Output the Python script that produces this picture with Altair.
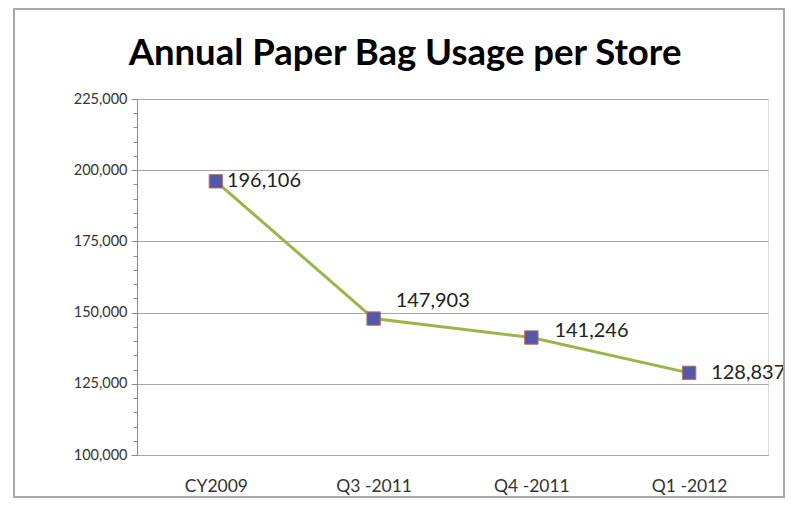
import altair as alt
import pandas as pd

categories = ["CY2009", "Q3 -2011", "Q4 -2011", "Q1 -2012"]
values = [196106, 147903, 141246, 128837]
labels = ["196,106", "147,903", "141,246", "128,837"]
title_text = "Annual Paper Bag Usage per Store"

df = pd.DataFrame({"cat": categories, "val": values, "lab": labels})

FONT = "Lato"
y_ticks = list(range(100000, 225001, 5000))

x = alt.X("cat:N", sort=categories, title=None,
          scale=alt.Scale(paddingInner=0, paddingOuter=0),
          axis=alt.Axis(labelAngle=0, labelFont=FONT, labelFontSize=17.5, labelColor="#333333",
                        labelPadding=22, ticks=False, domainColor="#a6a6a6", domainWidth=1.2,
                        grid=False))
y = alt.Y("val:Q", title=None,
          scale=alt.Scale(domain=[100000, 225000], nice=False, zero=False),
          axis=alt.Axis(values=y_ticks,
                        labelExpr="datum.value % 25000 == 0 ? format(datum.value, ',') : ''",
                        labelFont=FONT, labelFontSize=14.5, labelColor="#333333", labelPadding=4,
                        tickSize={"condition": {"test": "datum.value % 25000 == 0", "value": 6}, "value": 4},
                        tickColor="#8c8c8c",
                        gridOpacity={"condition": {"test": "datum.value % 25000 == 0", "value": 1}, "value": 0},
                        gridColor="#a6a6a6", gridWidth=1.2,
                        domainColor="#8c8c8c"))

base = alt.Chart(df)
one = alt.Chart(pd.DataFrame({"k": [0]}))

border = one.mark_rect(
    fill="transparent", stroke="#a8a8a8", strokeWidth=2
).encode(x=alt.value(-123), x2=alt.value(647), y=alt.value(-90), y2=alt.value(398))

title = one.mark_text(
    font=FONT, fontSize=36.5, fontWeight="bold", color="#000000", align="center", baseline="alphabetic"
).encode(x=alt.value(268), y=alt.value(-34), text=alt.value(title_text))

line = base.mark_line(color="#9BB648", strokeWidth=3).encode(x=x, y=y)
pts = base.mark_square(size=180, fill="#5558A8", stroke="#B8735E", strokeWidth=1, opacity=1).encode(x=x, y=y)

offsets = {"CY2009": (11, 0), "Q3 -2011": (22, -18), "Q4 -2011": (23, -7), "Q1 -2012": (22, 0)}
texts = []
for c in categories:
    dx, dy = offsets[c]
    texts.append(base.transform_filter(alt.datum.cat == c).mark_text(
        align="left", baseline="middle", dx=dx, dy=dy, font=FONT, fontSize=20, color="#222222"
    ).encode(x=x, y=y, text="lab:N"))

chart = alt.layer(line, pts, *texts, border, title).properties(
    width=631, height=356,
    padding={"left": 129, "top": 91, "right": 18, "bottom": 44},
    autosize=alt.AutoSizeParams(type="none"),
).configure_view(stroke=None).configure(background="white")

chart.save("out.html", embed_options={"renderer": "svg", "actions": False})
